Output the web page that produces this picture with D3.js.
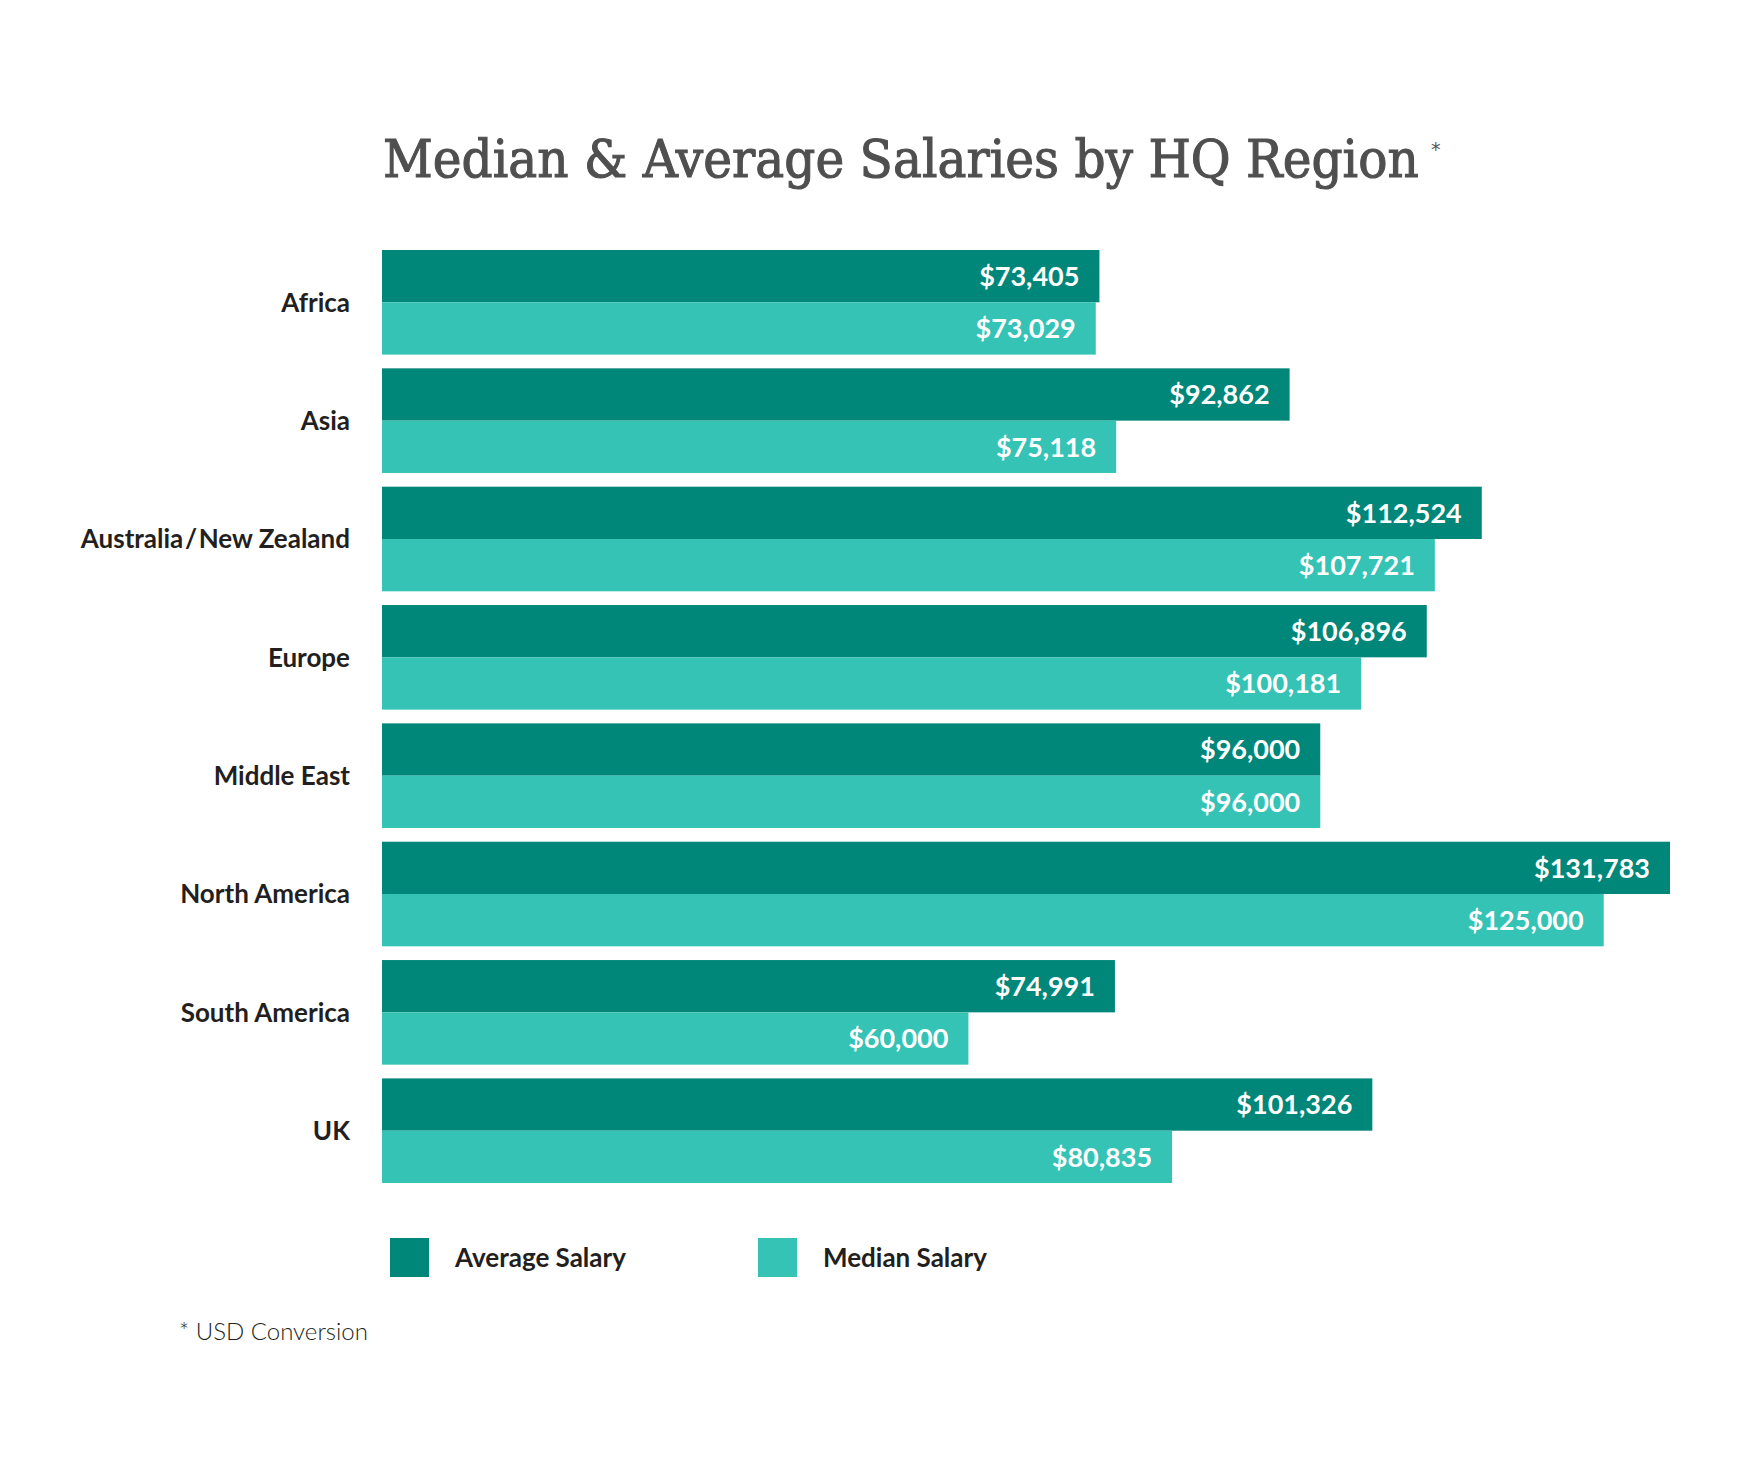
<!DOCTYPE html>
<html>
<head>
<meta charset="utf-8">
<script src="https://cdn.jsdelivr.net/npm/d3@7"></script>
<style>
  body { margin: 0; background: #fff; }
  svg { display: block; }
</style>
</head>
<body>
<div id="chart"></div>
<script>
var width = 1748,
    height = 1479;

// data
var regions = ["Africa", "Asia", "Australia\u200A/\u200ANew Zealand", "Europe",
    "Middle East", "North America", "South America", "UK"];
var averageSalary = [73405, 92862, 112524, 106896, 96000, 131783, 74991, 101326];
var medianSalary = [73029, 75118, 107721, 100181, 96000, 125000, 60000, 80835];
var seriesKeys = ["average", "median"];
var seriesNames = ["Average Salary", "Median Salary"];

var colors = {
    average: "#008779",
    median: "#35c3b5"
};

var rows = regions.map(function(r, i) {
    return { region: r, average: averageSalary[i], median: medianSalary[i] };
});

var svg = d3.select("#chart").append("svg")
    .attr("width", width)
    .attr("height", height);

var X = d3.scaleLinear()
    .domain([0, d3.max(averageSalary)])
    .range([382, 1670]);

var Y = d3.scaleBand()
    .domain(regions)
    .range([250, 1183])
    .paddingInner(0.116);

var Y1 = d3.scaleBand()
    .domain(seriesKeys)
    .range([0, Y.bandwidth()]);

var fmt = d3.format("$,");

// title, squeezed horizontally to the reference width
var title = svg.append("text")
    .attr("x", 0)
    .attr("y", 0)
    .attr("font-family", "'DejaVu Serif', serif")
    .attr("font-size", 52)
    .attr("fill", "#4f4f4f")
    .attr("stroke", "#4f4f4f")
    .attr("stroke-width", 1.1)
    .text("Median & Average Salaries by HQ Region");
var titleLen = title.node().getComputedTextLength();
title.attr("transform", "translate(383,177) scale(" + (1036 / titleLen) + ",1)");

svg.append("text")
    .attr("x", 1431)
    .attr("y", 156)
    .attr("font-family", "'DejaVu Sans', sans-serif")
    .attr("font-size", 19)
    .attr("fill", "#555")
    .text("*");

// bars
var groups = svg.selectAll("g.group")
    .data(rows)
    .enter().append("g")
    .attr("class", "group")
    .attr("transform", function(d) {
        return "translate(0," + Y(d.region) + ")";
    });

groups.selectAll("rect")
    .data(function(d) {
        return seriesKeys.map(function(k) { return { key: k, value: d[k] }; });
    })
    .enter().append("rect")
    .attr("x", X(0))
    .attr("y", function(d) { return Y1(d.key); })
    .attr("width", function(d) { return X(d.value) - X(0); })
    .attr("height", Y1.bandwidth())
    .attr("fill", function(d) { return colors[d.key]; });

groups.selectAll("text.value")
    .data(function(d) {
        return seriesKeys.map(function(k) { return { key: k, value: d[k] }; });
    })
    .enter().append("text")
    .attr("class", "value")
    .attr("x", function(d) { return X(d.value) - 20; })
    .attr("y", function(d) { return Y1(d.key) + Y1.bandwidth() / 2; })
    .attr("dy", "0.36em")
    .attr("text-anchor", "end")
    .attr("font-family", "Lato, sans-serif")
    .attr("font-weight", 700)
    .attr("font-size", 27)
    .attr("fill", "#fff")
    .text(function(d) { return fmt(d.value); });

// region labels
svg.selectAll("text.region")
    .data(regions)
    .enter().append("text")
    .attr("class", "region")
    .attr("x", 350)
    .attr("y", function(d) { return Y(d) + Y.bandwidth() / 2; })
    .attr("dy", "0.36em")
    .attr("text-anchor", "end")
    .attr("font-family", "Lato, sans-serif")
    .attr("font-weight", 700)
    .attr("font-size", 26)
    .attr("fill", "#231f20")
    .text(function(d) { return d; });

// legend
var legendX = [390, 758];
var legend = svg.selectAll("g.legend")
    .data(seriesKeys)
    .enter().append("g")
    .attr("class", "legend")
    .attr("transform", function(d, i) {
        return "translate(" + legendX[i] + ",1238)";
    });

legend.append("rect")
    .attr("width", 39)
    .attr("height", 39)
    .attr("fill", function(d) { return colors[d]; });

legend.append("text")
    .attr("x", 65)
    .attr("y", 29)
    .attr("font-family", "Lato, sans-serif")
    .attr("font-weight", 700)
    .attr("font-size", 26)
    .attr("fill", "#231f20")
    .text(function(d, i) { return seriesNames[i]; });

// footnote
svg.append("text")
    .attr("x", 179)
    .attr("y", 1340)
    .attr("font-family", "Lato, sans-serif")
    .attr("font-weight", 300)
    .attr("font-size", 24)
    .attr("fill", "#231f20")
    .text("* USD Conversion");
</script>
</body>
</html>
